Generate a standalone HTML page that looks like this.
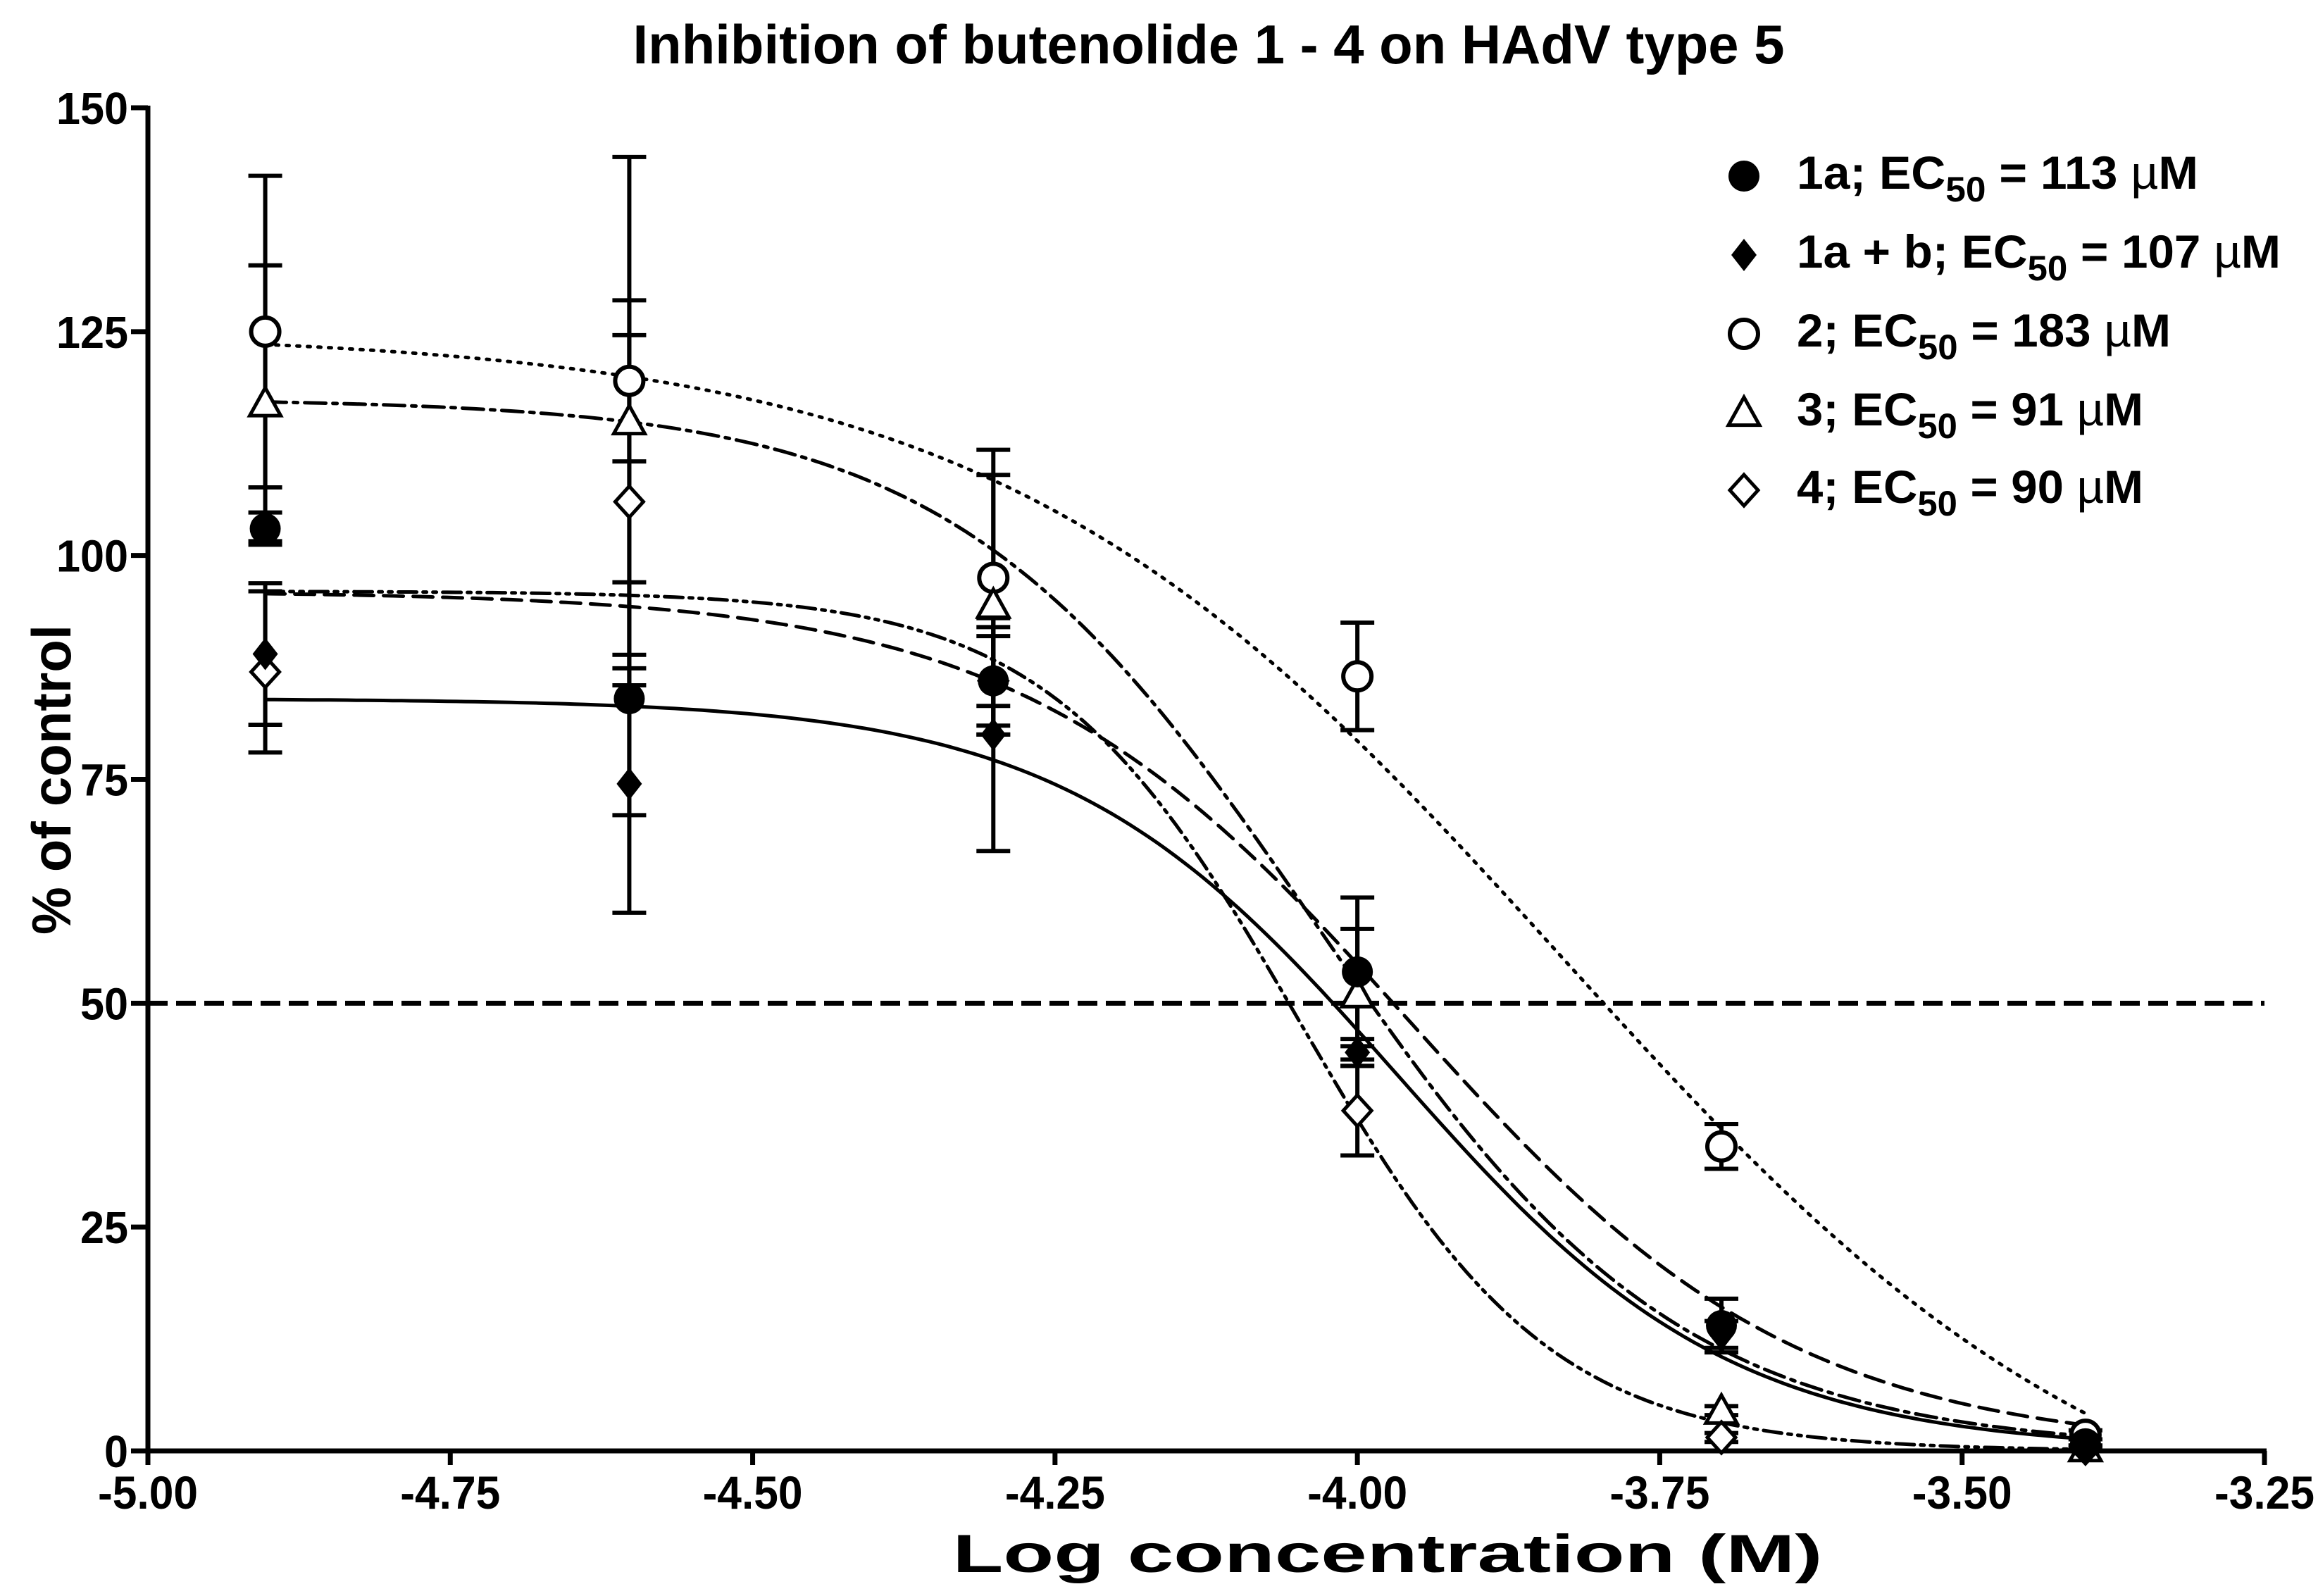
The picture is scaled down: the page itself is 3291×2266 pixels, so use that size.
<!DOCTYPE html>
<html><head><meta charset="utf-8">
<style>
html,body{margin:0;padding:0;background:#fff;}
svg{display:block;}
text{font-family:"Liberation Sans",sans-serif;font-weight:bold;fill:#000;}
</style></head>
<body>
<svg id="chart" width="3291" height="2266" viewBox="0 0 3291 2266" xmlns="http://www.w3.org/2000/svg">
<rect x="0" y="0" width="3291" height="2266" fill="#fff"/>
<text x="1716" y="90" font-size="78" text-anchor="middle" textLength="1635" lengthAdjust="spacingAndGlyphs">Inhibition of butenolide 1 - 4 on HAdV type 5</text>
<g id="axes"></g>
<g id="curves"></g>
<g id="refline"></g>
<g id="errbars"></g>
<g id="markers"></g>
<text x="1970" y="2232" font-size="76" text-anchor="middle" textLength="1235" lengthAdjust="spacingAndGlyphs">Log concentration (M)</text>
<text x="0" y="0" font-size="78" text-anchor="middle" transform="translate(100,1107) rotate(-90)" textLength="440" lengthAdjust="spacingAndGlyphs">% of control</text>
<g id="legend"></g>
</svg>
<script>
// ---- data ----
const logConc = [-4.903, -4.602, -4.301, -4.0, -3.699, -3.398];
const s1aValues  = [103, 84, 86, 53.5, 14, 0.8];
const s1aErrors  = [1.8, 13, 6, 8.3, 3, 0.5];
const s1abValues = [89, 74.5, 80, 44.5, 13, 0.3];
const s1abErrors = [7.9, 14.4, 13, 1.5, 1.5, 0.3];
const s2Values   = [125, 119.5, 97.5, 86.5, 34, 1.8];
const s2Errors   = [17.4, 9, 14.3, 6, 2.5, 0.5];
const s3Values   = [117, 115, 94.5, 51, 4.5, 0.3];
const s3Errors   = [15.4, 29.5, 14.5, 7.3, 0.5, 0.3];
const s4Values   = [87, 106, 86, 38, 1.5, 0.3];
const s4Errors   = [9, 18.6, 5, 5, 0.5, 0.3];
// fitted curve parameters: [top, bottom, logX50, hill]
const s1aFit  = [84, 0, -3.967, 3.15];
const s1abFit = [96, 0, -3.957, 2.7];
const s2Fit   = [125, -15, -3.83, 1.85];
const s3Fit   = [117.5, 0, -4.034, 2.9];
const s4Fit   = [96, 0, -4.048, 4.2];
const xTicks = [-5.00, -4.75, -4.50, -4.25, -4.00, -3.75, -3.50, -3.25];
const yTicks = [0, 25, 50, 75, 100, 125, 150];
const refLevel = 50;
const legendLabels = ["1a; EC", "1a + b; EC", "2; EC", "3; EC", "4; EC"];
const legendEC = ["113", "107", "183", "91", "90"];

// ---- scales ----
const X0 = 210, X1 = 3215, Y0 = 2060, Y1 = 153;
const xMin = -5, xMax = -3.25, yMin = 0, yMax = 150;
function X(v){ return X0 + (v - xMin) / (xMax - xMin) * (X1 - X0); }
function Y(v){ return Y0 - (v - yMin) / (yMax - yMin) * (Y0 - Y1); }
const NS = "http://www.w3.org/2000/svg";
function mk(tag, attrs, parent){
  const el = document.createElementNS(NS, tag);
  for (const k in attrs) el.setAttribute(k, attrs[k]);
  parent.appendChild(el);
  return el;
}
const gAxes = document.getElementById('axes');
const gCurves = document.getElementById('curves');
const gRef = document.getElementById('refline');
const gErr = document.getElementById('errbars');
const gMk = document.getElementById('markers');
const gLeg = document.getElementById('legend');

// axes
let ax = mk('line', {x1:X0, y1:Y1-3, x2:X0, y2:Y0+3, stroke:'#000', 'stroke-width':7}, gAxes);


ax = mk('line', {x1:X0-3, y1:Y0, x2:X1+3, y2:Y0, stroke:'#000', 'stroke-width':7}, gAxes);


yTicks.forEach(function(t){
  const tk = mk('line', {x1:X0-24, y1:Y(t), x2:X0, y2:Y(t), stroke:'#000', 'stroke-width':7}, gAxes);
  
  
  const s = String(t);
  const lb = mk('text', {x:X0-28, y:Y(t)+23, 'font-size':64, 'text-anchor':'end', textLength:34*s.length, lengthAdjust:'spacingAndGlyphs'}, gAxes);
  lb.textContent = s;
  
  
});
xTicks.forEach(function(t){
  const tk = mk('line', {x1:X(t), y1:Y0, x2:X(t), y2:Y0+20, stroke:'#000', 'stroke-width':7}, gAxes);
  
  
  const lb = mk('text', {x:X(t), y:Y0+82, 'font-size':66, 'text-anchor':'middle', textLength:142, lengthAdjust:'spacingAndGlyphs'}, gAxes);
  lb.textContent = t.toFixed(2);
  
  
});

// reference 50% line
const rl = mk('line', {x1:X0, y1:Y(refLevel), x2:X1, y2:Y(refLevel), stroke:'#000', 'stroke-width':7, 'stroke-dasharray':'28 12'}, gRef);



const series = [
  {name:'1a', vals:s1aValues, errs:s1aErrors, fit:s1aFit, dash:'none', marker:'circle-filled'},
  {name:'1a-b', vals:s1abValues, errs:s1abErrors, fit:s1abFit, dash:'28 14', marker:'diamond-filled'},
  {name:'2', vals:s2Values, errs:s2Errors, fit:s2Fit, dash:'4 11', marker:'circle-open'},
  {name:'3', vals:s3Values, errs:s3Errors, fit:s3Fit, dash:'30 10 6 10', marker:'triangle-open'},
  {name:'4', vals:s4Values, errs:s4Errors, fit:s4Fit, dash:'26 9 5 9 5 9', marker:'diamond-open'}
];
function logistic(p, x){ return p[1] + (p[0]-p[1]) / (1 + Math.pow(10, (x - p[2]) * p[3])); }

// curves
series.forEach(function(s){
  const a = logConc[0], b = logConc[logConc.length-1];
  let d = '';
  for (let i = 0; i <= 200; i++){
    const x = a + (b-a)*i/200;
    const y = Math.max(logistic(s.fit, x), -0.5);
    d += (i ? 'L' : 'M') + X(x).toFixed(1) + ',' + Y(y).toFixed(1);
  }
  const attrs = {d:d, fill:'none', stroke:'#000', 'stroke-width':5, 'stroke-linecap':'round'};
  if (s.dash !== 'none') attrs['stroke-dasharray'] = s.dash;
  const p = mk('path', attrs, gCurves);
  
  
});

// error bars
series.forEach(function(s){
  s.vals.forEach(function(v, i){
    const e = s.errs[i];
    const cx = X(logConc[i]);
    const g = mk('g', {}, gErr);
    
    
    mk('line', {x1:cx, y1:Y(v+e), x2:cx, y2:Y(Math.max(v-e,0)), stroke:'#000', 'stroke-width':6}, g);
    mk('line', {x1:cx-24, y1:Y(v+e), x2:cx+24, y2:Y(v+e), stroke:'#000', 'stroke-width':6}, g);
    if (v-e > 0) mk('line', {x1:cx-24, y1:Y(v-e), x2:cx+24, y2:Y(v-e), stroke:'#000', 'stroke-width':6}, g);
  });
});

function drawMarker(type, cx, cy, parent, scale){
  const k = scale || 1;
  if (type === 'circle-filled') return mk('circle', {cx:cx, cy:cy, r:22*k, fill:'#000'}, parent);
  if (type === 'circle-open') return mk('circle', {cx:cx, cy:cy, r:20*k, fill:'#fff', stroke:'#000', 'stroke-width':6}, parent);
  if (type === 'diamond-filled') { const w=18*k, h=23*k; return mk('polygon', {points:(cx)+','+(cy-h)+' '+(cx+w)+','+cy+' '+cx+','+(cy+h)+' '+(cx-w)+','+cy, fill:'#000'}, parent); }
  if (type === 'diamond-open') { const w=20*k, h=22*k; return mk('polygon', {points:(cx)+','+(cy-h)+' '+(cx+w)+','+cy+' '+cx+','+(cy+h)+' '+(cx-w)+','+cy, fill:'#fff', stroke:'#000', 'stroke-width':5}, parent); }
  if (type === 'triangle-open') { const w=22*k, h=22*k; return mk('polygon', {points:cx+','+(cy-h)+' '+(cx+w)+','+(cy+h*0.8)+' '+(cx-w)+','+(cy+h*0.8), fill:'#fff', stroke:'#000', 'stroke-width':5}, parent); }
}

// markers (open first, then filled)
const order = [2,3,4,0,1];
order.forEach(function(si){
  const s = series[si];
  s.vals.forEach(function(v, i){
    const m = drawMarker(s.marker, X(logConc[i]), Y(v), gMk);
    
    
  });
});

// legend
const legRowY = [250, 362, 474, 586, 696];
const legWidths = [570, 687, 531, 492, 492];
series.forEach(function(s, i){
  const cy = legRowY[i];
  const entry = mk('g', {}, gLeg);
  
  
  const m = drawMarker(s.marker, 2476, cy, entry, 1.0);
  
  
  const t = mk('text', {x:2551, y:cy+18, 'font-size':66, textLength:legWidths[i], lengthAdjust:'spacingAndGlyphs'}, entry);
  const t1 = mk('tspan', {}, t); t1.textContent = legendLabels[i];
  const t2 = mk('tspan', {'font-size':50, dy:18}, t); t2.textContent = '50';
  const t3 = mk('tspan', {dy:-18}, t); t3.textContent = ' = ' + legendEC[i] + ' ';
  const t4 = mk('tspan', {'font-weight':'normal'}, t); t4.textContent = 'µ';
  const t5 = mk('tspan', {}, t); t5.textContent = 'M';
  
  
});
</script>
</body></html>
